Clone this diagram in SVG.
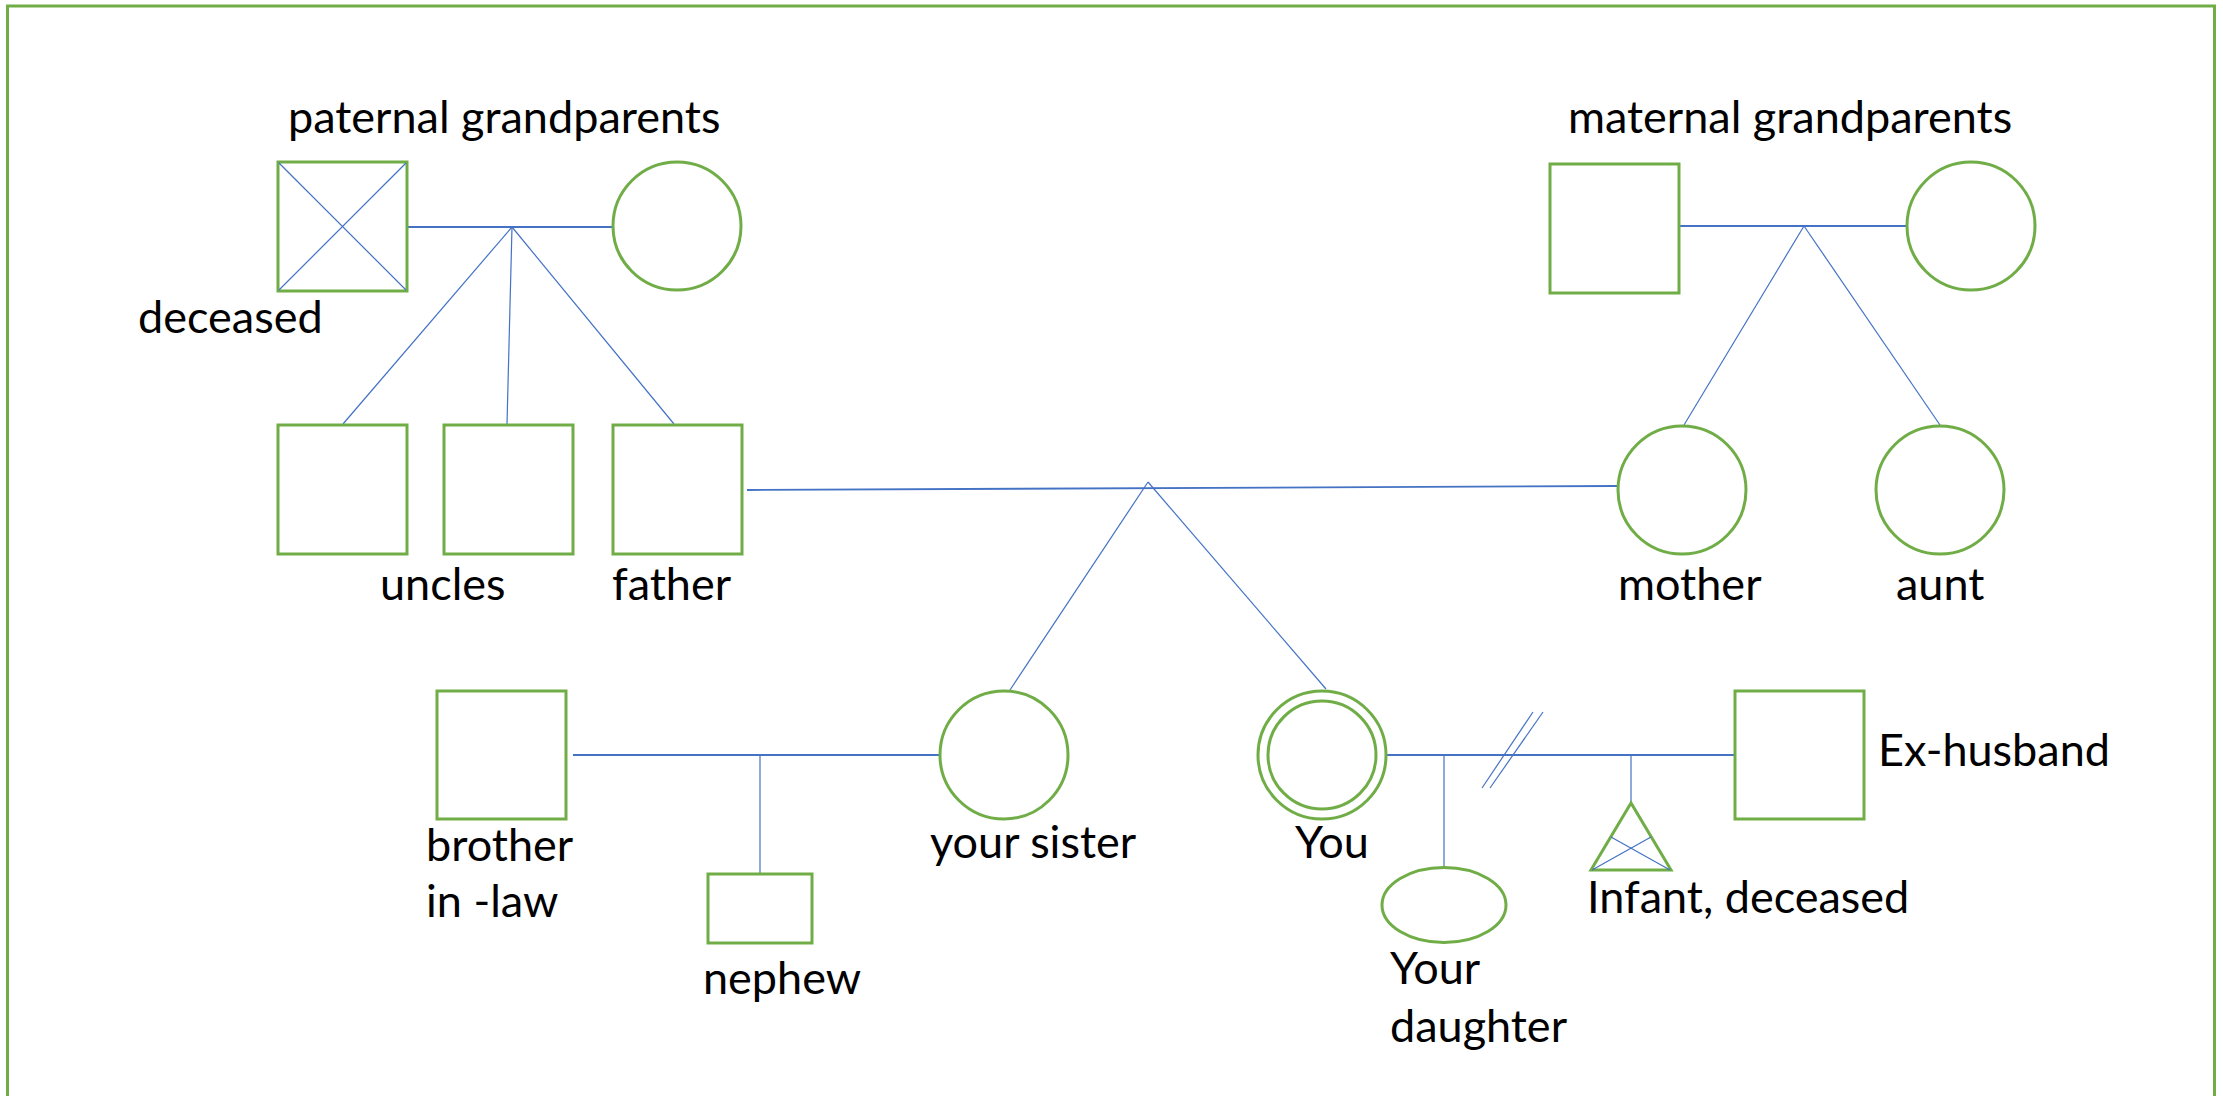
<svg xmlns="http://www.w3.org/2000/svg" width="2223" height="1096" viewBox="0 0 2223 1096">
  <style>
    .frame { fill: none; stroke: #70AD47; stroke-width: 3; }
    .shape { fill: #FFFFFF; stroke: #70AD47; stroke-width: 3; }
    .link { fill: none; stroke: #4472C4; stroke-width: 1.2; }
    .bond { fill: none; stroke: #4472C4; stroke-width: 1.8; }
    .mark { fill: none; stroke: #4472C4; stroke-width: 1.2; }
    .label { font-family: Lato, "Liberation Sans", sans-serif; font-size: 45px; fill: #000000; }
  </style>
  <rect x="0" y="0" width="2223" height="1096" fill="#FFFFFF"/>
  <rect class="frame" x="7.5" y="6" width="2207" height="1120"/>

  <!-- relationship lines -->
  <g id="connectors">
    <!-- paternal grandparents and their children -->
    <line class="bond" x1="407" y1="227" x2="612" y2="227"/>
    <line class="link" x1="512" y1="227" x2="343" y2="424"/>
    <line class="link" x1="512" y1="227" x2="507" y2="424"/>
    <line class="link" x1="512" y1="227" x2="674" y2="424"/>
    <!-- maternal grandparents and their children -->
    <line class="bond" x1="1679" y1="226" x2="1906" y2="226"/>
    <line class="link" x1="1804" y1="226" x2="1684" y2="425"/>
    <line class="link" x1="1804" y1="226" x2="1940" y2="425"/>
    <!-- parents and their children -->
    <line class="bond" x1="747" y1="490" x2="1617" y2="486"/>
    <line class="link" x1="1148" y1="482" x2="1010" y2="690"/>
    <line class="link" x1="1148" y1="482" x2="1326" y2="689"/>
    <!-- sister, brother-in-law and nephew -->
    <line class="bond" x1="573" y1="755" x2="945" y2="755"/>
    <line class="link" x1="760" y1="755" x2="760" y2="874"/>
    <!-- you, ex-husband and children -->
    <line class="bond" x1="1386" y1="755" x2="1735" y2="755"/>
    <line class="link" x1="1444" y1="755" x2="1444" y2="867"/>
    <line class="link" x1="1631" y1="755" x2="1631" y2="803"/>
    <!-- divorce slashes -->
    <line class="mark" x1="1482" y1="788" x2="1533" y2="712"/>
    <line class="mark" x1="1490" y1="788" x2="1543" y2="712"/>
  </g>

  <g id="paternal-grandfather">
    <rect class="shape" x="278" y="162" width="129" height="129"/>
    <line class="mark" x1="279" y1="163" x2="406" y2="290"/>
    <line class="mark" x1="406" y1="163" x2="279" y2="290"/>
  </g>
  <g id="paternal-grandmother">
    <circle class="shape" cx="677" cy="226" r="64"/>
  </g>
  <g id="uncle-1">
    <rect class="shape" x="278" y="425" width="129" height="129"/>
  </g>
  <g id="uncle-2">
    <rect class="shape" x="444" y="425" width="129" height="129"/>
  </g>
  <g id="father">
    <rect class="shape" x="613" y="425" width="129" height="129"/>
  </g>
  <g id="maternal-grandfather">
    <rect class="shape" x="1550" y="164" width="129" height="129"/>
  </g>
  <g id="maternal-grandmother">
    <circle class="shape" cx="1971" cy="226" r="64"/>
  </g>
  <g id="mother">
    <circle class="shape" cx="1682" cy="490" r="64"/>
  </g>
  <g id="aunt">
    <circle class="shape" cx="1940" cy="490" r="64"/>
  </g>
  <g id="brother-in-law">
    <rect class="shape" x="437" y="691" width="129" height="128"/>
  </g>
  <g id="sister">
    <circle class="shape" cx="1004" cy="755" r="64"/>
  </g>
  <g id="nephew">
    <rect class="shape" x="708" y="874" width="104" height="69"/>
  </g>
  <g id="you">
    <circle class="shape" cx="1322" cy="755" r="64"/>
    <ellipse class="shape" cx="1322" cy="755" rx="54" ry="54"/>
  </g>
  <g id="daughter">
    <ellipse class="shape" cx="1444" cy="905" rx="62" ry="37.5"/>
  </g>
  <g id="infant">
    <polygon class="shape" points="1631,803 1591,870 1671,870"/>
    <line class="mark" x1="1592" y1="870" x2="1651" y2="837"/>
    <line class="mark" x1="1611" y1="837" x2="1670" y2="870"/>
  </g>
  <g id="ex-husband">
    <rect class="shape" x="1735" y="691" width="129" height="128"/>
  </g>

  <g id="labels">
    <text class="label" x="288" y="133">paternal grandparents</text>
    <text class="label" x="138" y="333">deceased</text>
    <text class="label" x="1568" y="133">maternal grandparents</text>
    <text class="label" x="380" y="600">uncles</text>
    <text class="label" x="612" y="600">father</text>
    <text class="label" x="1618" y="600">mother</text>
    <text class="label" x="1896" y="600">aunt</text>
    <text class="label" x="426" y="861">brother</text>
    <text class="label" x="426" y="917">in -law</text>
    <text class="label" x="703" y="994">nephew</text>
    <text class="label" x="930" y="858">your sister</text>
    <text class="label" x="1295" y="858">You</text>
    <text class="label" x="1390" y="984">Your</text>
    <text class="label" x="1390" y="1042">daughter</text>
    <text class="label" x="1587" y="913">Infant, deceased</text>
    <text class="label" x="1878" y="766">Ex-husband</text>
  </g>
</svg>
